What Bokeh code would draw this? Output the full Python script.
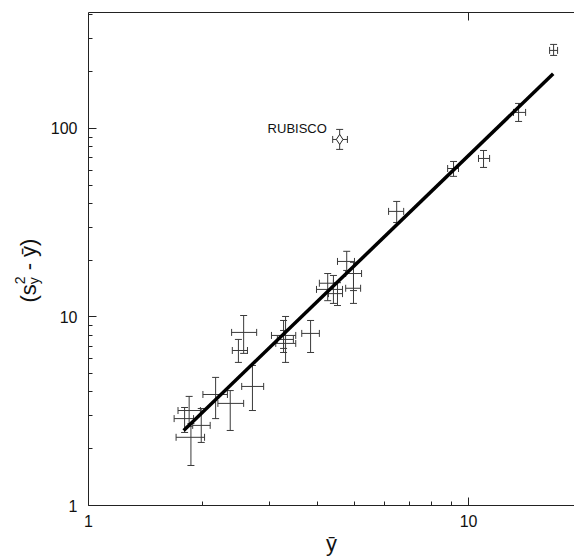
import math
from bokeh.plotting import figure
from bokeh.layouts import row
from bokeh.models import (ColumnDataSource, Whisker, TeeHead, LogAxis,
                          FixedTicker, NumeralTickFormatter)
from bokeh.embed import file_html
from bokeh.resources import INLINE
from bokeh.core.properties import value

# ---- data ----
ybar      = [1.79, 1.84, 1.98, 1.86, 2.36, 2.16, 2.70, 2.56, 2.48, 3.26, 3.30, 3.26,
             3.84, 4.78, 4.98, 4.98, 4.26, 4.41, 4.52, 6.47, 9.13, 10.95, 13.54, 16.74]
ybar_lo   = [1.68, 1.72, 1.88, 1.70, 2.19, 2.00, 2.53, 2.38, 2.39, 3.03, 3.11, 3.14,
             3.64, 4.52, 4.75, 4.75, 4.05, 3.98, 4.28, 6.16, 8.81, 10.62, 13.13, 16.34]
ybar_hi   = [1.89, 1.97, 2.09, 2.02, 2.56, 2.32, 2.89, 2.77, 2.62, 3.51, 3.51, 3.46,
             4.05, 5.01, 5.23, 5.20, 4.41, 4.66, 4.66, 6.75, 9.41, 11.36, 14.13, 17.15]
excess    = [2.89, 3.19, 2.66, 2.30, 3.48, 3.88, 4.28, 8.28, 6.64, 7.98, 7.24, 7.60,
             8.18, 19.7, 17.0, 14.2, 15.1, 14.0, 13.3, 36.3, 61.3, 69.3, 121.6, 259.3]
excess_lo = [2.44, 2.63, 2.16, 1.63, 2.50, 2.89, 3.19, 6.41, 5.74, 6.48, 5.74, 6.81,
             6.48, 17.65, 13.8, 11.8, 12.2, 11.8, 11.5, 31.7, 55.7, 62.1, 108.9, 243.9]
excess_hi = [3.31, 3.79, 3.27, 2.72, 4.07, 4.78, 5.53, 10.18, 7.60, 9.58, 10.06, 8.48,
             9.58, 22.3, 19.5, 17.0, 17.0, 16.6, 15.2, 41.0, 66.8, 76.4, 135.7, 279.0]

rubisco_x, rubisco_xlo, rubisco_xhi = [4.58], [4.39], [4.80]
rubisco_y, rubisco_ylo, rubisco_yhi = [87.4], [77.4], [98.8]
rubisco_label = "RUBISCO"

fit_x = [1.78, 16.7]
fit_y = [2.50, 195.0]

x_ticks = [1, 10]
y_ticks = [1, 10, 100]
tick_labels = {1: "1", 10: "10", 100: "100"}
x_label = "ȳ"

FONT = "Liberation Sans"
BAR = "#3a3a3a"
LAB_W = 44

p = figure(frame_width=486, frame_height=493, x_axis_type="log", y_axis_type="log",
           x_range=(1, 19.0), y_range=(1, 412),
           output_backend="svg", toolbar_location=None,
           min_border_left=44, min_border_right=0, min_border_top=12, min_border_bottom=0,
           background_fill_color="white", border_fill_color="white")
p.outline_line_color = None
p.xgrid.visible = False
p.ygrid.visible = False

src = ColumnDataSource(dict(x=ybar, xlo=ybar_lo, xhi=ybar_hi,
                            y=excess, ylo=excess_lo, yhi=excess_hi))
rsrc = ColumnDataSource(dict(x=rubisco_x, xlo=rubisco_xlo, xhi=rubisco_xhi,
                             y=rubisco_y, ylo=rubisco_ylo, yhi=rubisco_yhi))

for s in (src, rsrc):
    p.add_layout(Whisker(source=s, base="x", lower="ylo", upper="yhi", dimension="height",
                         line_color=BAR, line_width=1,
                         upper_head=TeeHead(size=7, line_color=BAR, line_width=1),
                         lower_head=TeeHead(size=7, line_color=BAR, line_width=1)))
    p.add_layout(Whisker(source=s, base="y", lower="xlo", upper="xhi", dimension="width",
                         line_color=BAR, line_width=1,
                         upper_head=TeeHead(size=7, line_color=BAR, line_width=1),
                         lower_head=TeeHead(size=7, line_color=BAR, line_width=1)))

p.scatter(x="x", y="y", source=rsrc, marker="diamond", size=10,
          fill_color="white", line_color="#222", line_width=1)

p.line(fit_x, fit_y, line_color="black", line_width=3.5)

p.text(x=[2.96], y=[100.0], text=[rubisco_label], text_font=value(FONT),
       text_font_size="13px", text_color="#111", text_baseline="alphabetic",
       text_align="left")

# axes
xax = p.xaxis[0]
xax.ticker = FixedTicker(ticks=x_ticks, minor_ticks=[2, 3, 4, 5, 6, 7, 8, 9])
yax = p.yaxis[0]
yax.ticker = FixedTicker(ticks=y_ticks, minor_ticks=[2, 3, 4, 5, 6, 7, 8, 9,
                                                     20, 30, 40, 50, 60, 70, 80, 90,
                                                     200, 300, 400])
for ax in (xax, yax):
    ax.formatter = NumeralTickFormatter(format="0")
    ax.major_label_overrides = tick_labels
    ax.axis_line_color = "#222"
    ax.major_tick_line_color = "#222"
    ax.minor_tick_line_color = "#222"
    ax.major_tick_in = 8
    ax.major_tick_out = 0
    ax.minor_tick_in = 4
    ax.minor_tick_out = 0
    ax.major_label_text_font = FONT
    ax.major_label_text_font_size = "16px"
    ax.major_label_text_color = "#111"
    ax.major_label_text_line_height = 1.0

xax.major_label_standoff = 9
xax.axis_label = x_label
xax.axis_label_text_font = FONT
xax.axis_label_text_font_size = "22px"
xax.axis_label_text_font_style = "normal"
xax.axis_label_text_color = "#111"
xax.axis_label_text_line_height = 1.0
xax.axis_label_standoff = 1
yax.major_label_standoff = 11

top = LogAxis(ticker=FixedTicker(ticks=[10], minor_ticks=[]),
              major_label_overrides={10: ""}, major_label_standoff=0,
              major_label_text_font_size="1px",
              axis_line_color="#222", major_tick_line_color="#222",
              major_tick_in=8, major_tick_out=0, minor_tick_in=0, minor_tick_out=0)
p.add_layout(top, "above")

# ---- y-axis label drawn in a narrow side panel (page coordinates) ----
LAB_H = 550
ylab = figure(frame_width=LAB_W, frame_height=LAB_H, x_range=(0, LAB_W), y_range=(0, LAB_H),
              output_backend="svg", toolbar_location=None,
              x_axis_location=None, y_axis_location=None, min_border=0,
              background_fill_color="white", border_fill_color="white")
ylab.outline_line_color = None
ylab.xgrid.visible = False
ylab.ygrid.visible = False

def py(page_y):
    return LAB_H - page_y

base_x = 28          # page x of the text baseline
start = 290          # page y where the label starts (bottom)
pieces = [
    ("(s", base_x, start, "22px"),
    ("2", base_x - 9, start - 18.3, "14px"),
    ("y", base_x + 5, start - 18.3, "14px"),
    ("-", base_x, start - 32.2, "22px"),
    ("ȳ)", base_x, start - 45.6, "22px"),
]
for t, lx, ly, fs in pieces:
    ylab.text(x=[lx], y=[py(ly)], text=[t], angle=math.pi / 2,
              text_font=value(FONT), text_font_size=fs, text_color="#111",
              text_align="left", text_baseline="alphabetic")

layout = row(ylab, p, spacing=0)
open("out.html", "w").write(file_html(layout, INLINE))
